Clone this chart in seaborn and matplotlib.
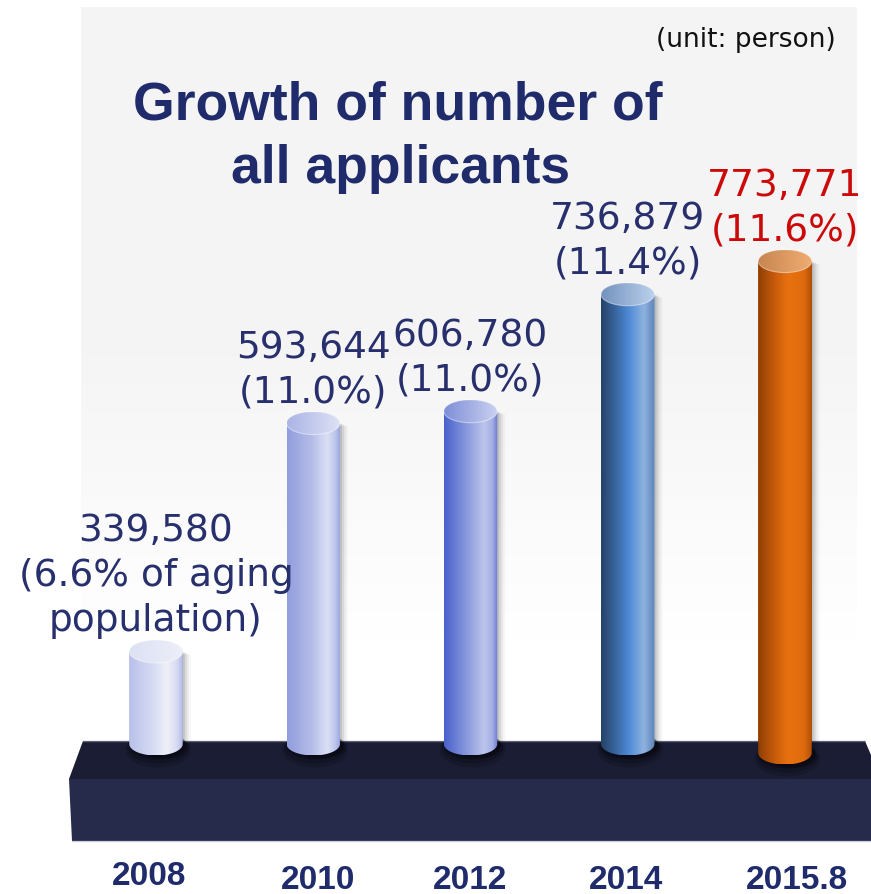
import numpy as np
import pandas as pd
import matplotlib
matplotlib.use("Agg")
import matplotlib.pyplot as plt
import seaborn as sns
from matplotlib.patches import Polygon, Ellipse, PathPatch
from matplotlib.path import Path
from matplotlib.lines import Line2D
from matplotlib.transforms import Affine2D, ScaledTranslation
from matplotlib.colors import LinearSegmentedColormap
from matplotlib import font_manager

# ---- data -------------------------------------------------------------
years = ["2008", "2010", "2012", "2014", "2015.8"]
applicants = [339580, 593644, 606780, 736879, 773771]
shares = ["6.6% of aging\npopulation", "11.0%", "11.0%", "11.4%", "11.6%"]

# ---- styling ----------------------------------------------------------
NAVY = "#1f2b6b"
LABEL_NAVY = "#27306c"
RED = "#cc0a0a"
BAR_COLORS = ["#d3d8f2", "#b3bce8", "#8696dc", "#4f8bd6", "#e8710f"]
BODY_STOPS = [
    [(0, "#b9c1ea"), (0.4, "#d3d8f2"), (0.7, "#eff0f8"), (0.88, "#d9ddf3"), (1, "#b2bae7")],
    [(0, "#919ddd"), (0.45, "#b3bce8"), (0.75, "#dce0f4"), (0.9, "#bcc4eb"), (1, "#95a1df")],
    [(0, "#4961ca"), (0.4, "#8696dc"), (0.75, "#bcc5ec"), (0.9, "#a3afe3"), (1, "#6577d1")],
    [(0, "#254266"), (0.3, "#3b6aa6"), (0.52, "#4f8bd6"), (0.8, "#8fb2df"), (1, "#5c83b9")],
    [(0, "#8e3f05"), (0.3, "#c65a0b"), (0.55, "#e8710f"), (0.85, "#e06b0e"), (1, "#ad4f08")],
]
TOP_STOPS = [
    [(0, "#dde1f4"), (1, "#eceef8")],
    [(0, "#aab4e6"), (1, "#dfe3f5")],
    [(0, "#7f8fd8"), (1, "#cbd1f1")],
    [(0, "#7392bd"), (1, "#bcd2ec")],
    [(0, "#c78650"), (1, "#f0ad72")],
]
BASE_DROP_PX = [0, 0, 0, 0, 9]          # the last column stands a little nearer
YEAR_SHIFT_PX = [(-7, 0), (5, -4), (0, -4), (-2, -4), (12, -4)]

W, H, DPI = 871, 895, 100
AX_BOTTOM_PX = 842          # axes bottom edge (pixels from the top)
Y_LIMITS = (128_700, 1_065_300)
X_LIMITS = (-0.992, 4.547)
BASE = 236_600              # level of the platform the columns stand on
CAP_PX = 11.5               # half height of the elliptical caps
BAR_WIDTH = 0.34


def has_font(name):
    try:
        font_manager.findfont(font_manager.FontProperties(family=name),
                              fallback_to_default=False)
        return True
    except ValueError:
        return False


sns.set_theme(style="white")
plt.rcParams["font.family"] = ["DejaVu Sans"]
SANS_BOLD = "Liberation Sans" if has_font("Liberation Sans") else "DejaVu Sans"

fig = plt.figure(figsize=(W / DPI, H / DPI), dpi=DPI, facecolor="white")
ax = fig.add_axes([0, (H - AX_BOTTOM_PX) / H, 1, AX_BOTTOM_PX / H])
ax.patch.set_alpha(0)

# transform for coordinates given in pixels measured from the top-left corner
px = Affine2D().scale(1 / W, -1 / H).translate(0, 1) + fig.transFigure

# ---- backdrop: light gray panel fading to white --------------------------
panel_top, panel_bot, panel_l, panel_r = 8, 640, 81, 857
rows = np.arange(panel_top, panel_bot)
shade = np.where(rows < 330, 0.957,
                 0.957 + (1.0 - 0.957) * (rows - 330) / (panel_bot - 330))
panel = np.repeat(shade[:, None], panel_r - panel_l, axis=1)
panel = np.dstack([panel, panel, panel])
fig.figimage(panel, xo=panel_l, yo=H - panel_bot, origin="upper", zorder=-5)

# ---- bars -------------------------------------------------------------
df = pd.DataFrame({"year": years, "applicants": applicants})
sns.barplot(data=df, x="year", y="applicants", hue="year", palette=BAR_COLORS,
            legend=False, width=BAR_WIDTH, errorbar=None, saturation=1,
            linewidth=0, ax=ax, zorder=1)
bars = sorted(ax.patches, key=lambda p: p.get_x())

ax.set_xlim(*X_LIMITS)
ax.set_ylim(*Y_LIMITS)
y_per_px = (Y_LIMITS[1] - Y_LIMITS[0]) / AX_BOTTOM_PX
x_per_px = (X_LIMITS[1] - X_LIMITS[0]) / W
ry = CAP_PX * y_per_px

# ---- platform ---------------------------------------------------------
top_face = Polygon([(83, 742), (865, 742), (871, 756), (871, 780), (69, 780)],
                   closed=True, facecolor="#1a1d33", edgecolor="none",
                   transform=px, clip_on=False, zorder=2)
front_face = Polygon([(69, 780), (871, 780), (871, 842), (72, 842)],
                     closed=True, facecolor="#262b4b", edgecolor="none",
                     transform=px, clip_on=False, zorder=2)
ax.add_patch(top_face)
ax.add_patch(front_face)
ax.add_line(Line2D([83, 865], [742, 742], color="#7d8199", lw=1.0, alpha=0.7,
                   transform=px, clip_on=False, zorder=2.1))
ax.add_line(Line2D([72, 871], [842, 842], color="#b9bcc8", lw=1.0, alpha=0.7,
                   transform=px, clip_on=False, zorder=2.1))

# ---- cylinders --------------------------------------------------------
for i, bar in enumerate(bars):
    x0, w, top = bar.get_x(), bar.get_width(), bar.get_height()
    cx = x0 + w / 2
    base = BASE - BASE_DROP_PX[i] * y_per_px
    t = np.linspace(np.pi, 2 * np.pi, 60)
    bx = cx + (w / 2) * np.cos(t)
    by = base + ry * np.sin(t)
    verts = [(x0, top)] + list(zip(bx, by)) + [(x0 + w, top), (x0, top)]
    codes = [Path.MOVETO] + [Path.LINETO] * (len(verts) - 2) + [Path.CLOSEPOLY]
    body_path = Path(verts, codes)

    # dark footprint on the platform
    for k, a in zip((2, 4, 6), (0.25, 0.18, 0.12)):
        ax.add_patch(Ellipse((cx + 2 * x_per_px, base - k * y_per_px),
                             w + 2 * k * x_per_px, 2 * ry + 2 * k * y_per_px,
                             facecolor="black", edgecolor="none", alpha=a, zorder=2.4))

    # soft shadow on the right-hand side
    for k, a in zip((2, 4, 6, 8), (0.10, 0.07, 0.05, 0.03)):
        shadow = PathPatch(body_path.transformed(Affine2D().translate(k * x_per_px, -k * 0.4 * y_per_px)),
                           facecolor="black", edgecolor="none", alpha=a, zorder=2.5)
        ax.add_patch(shadow)

    body = PathPatch(body_path, facecolor="none", edgecolor="none", zorder=3)
    ax.add_patch(body)
    cmap = LinearSegmentedColormap.from_list(f"body{i}", BODY_STOPS[i])
    grad = cmap(np.linspace(0, 1, 256))[None, :, :]
    im = ax.imshow(grad, extent=[x0, x0 + w, base - ry, top], aspect="auto",
                   interpolation="bicubic", zorder=3)
    im.set_clip_path(body)

    cap = Ellipse((cx, top), w, 2 * ry, facecolor="none", edgecolor="none", zorder=4)
    ax.add_patch(cap)
    cmap_t = LinearSegmentedColormap.from_list(f"top{i}", TOP_STOPS[i])
    grad_t = cmap_t(np.linspace(0, 1, 256))[None, :, :]
    im_t = ax.imshow(grad_t, extent=[x0, x0 + w, top - ry, top + ry], aspect="auto",
                     interpolation="bicubic", zorder=4)
    im_t.set_clip_path(cap)
    ax.add_patch(Ellipse((cx, top), w, 2 * ry, facecolor="none",
                         edgecolor="#ffffff", lw=0.8, alpha=0.45, zorder=4.1))

# ---- value labels -----------------------------------------------------
LINE_PX = 45
GAP_PX = CAP_PX + 10
for i, (v, s) in enumerate(zip(applicants, shares)):
    lines = [f"{v:,}"] + f"({s})".split("\n")
    color = RED if i == len(applicants) - 1 else LABEL_NAVY
    n = len(lines)
    for k, line in enumerate(lines):
        ax.annotate(line, xy=(i, v), xytext=(0, GAP_PX + (n - 1 - k) * LINE_PX),
                    textcoords="offset pixels", ha="center", va="baseline",
                    fontsize=27, color=color, family="DejaVu Sans",
                    annotation_clip=False, zorder=6)

# ---- title and unit note ----------------------------------------------
fig.text(398 / W, 1 - 120 / H, "Growth of number of", ha="center", va="baseline",
         fontsize=38.5, fontweight="bold", color=NAVY, family=SANS_BOLD)
fig.text(401 / W, 1 - 183 / H, "all applicants", ha="center", va="baseline",
         fontsize=38.5, fontweight="bold", color=NAVY, family=SANS_BOLD)
fig.text(836 / W, 1 - 47 / H, "(unit: person)", ha="right", va="baseline",
         fontsize=19, color="#111111", family="DejaVu Sans")

# ---- year axis --------------------------------------------------------
ax.set_xticks(range(len(years)))
ax.set_xticklabels(years, fontsize=24, fontweight="bold", color=NAVY, family=SANS_BOLD)
ax.tick_params(axis="x", length=0, pad=14)
for lab, (dx, dy) in zip(ax.get_xticklabels(), YEAR_SHIFT_PX):
    lab.set_transform(lab.get_transform() + ScaledTranslation(dx / DPI, dy / DPI, fig.dpi_scale_trans))
ax.set_yticks([])
ax.set_xlabel("")
ax.set_ylabel("")
for sp in ax.spines.values():
    sp.set_visible(False)

ax.set_xlim(*X_LIMITS)
ax.set_ylim(*Y_LIMITS)

fig.savefig("out.png", dpi=DPI, facecolor="white")
